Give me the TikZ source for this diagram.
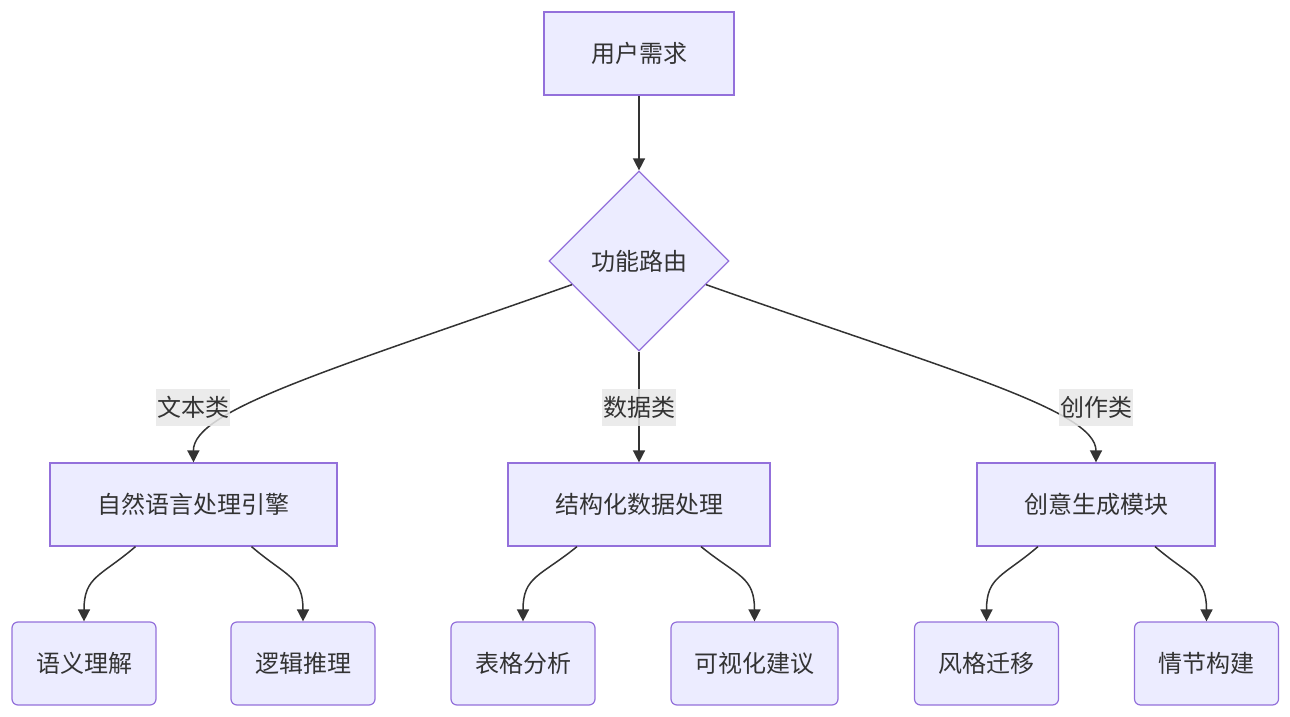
\documentclass[tikz,border=0pt]{standalone}
\usepackage{fontspec}
\newfontfamily\cjk{Noto Sans CJK SC}
\usetikzlibrary{shapes.geometric,arrows.meta,calc}

\definecolor{boxfill}{HTML}{ECECFF}
\definecolor{boxline}{HTML}{9370DB}
\definecolor{linegray}{HTML}{333333}
\definecolor{lblfill}{HTML}{E8E8E8}

\tikzset{
  box/.style={draw=boxline, fill=boxfill, line width=1.2pt, minimum height=83pt,
    text=linegray, font=\cjk\fontsize{24}{28}\selectfont},
  leaf/.style={box, rounded corners=6pt, minimum width=144pt},
  decide/.style={box, diamond, aspect=1, inner sep=0pt, minimum width=180pt, minimum height=180pt},
  lbl/.style={fill=lblfill, fill opacity=0.85, text opacity=1, text=linegray, inner xsep=1pt,
    inner ysep=0pt, minimum height=37pt, font=\cjk\fontsize{24}{28}\selectfont},
  arr/.style={draw=linegray, line width=1.5pt, -{Triangle[length=12pt,width=12pt]}},
}

\begin{document}
\begin{tikzpicture}[x=1pt, y=-1pt]

    \useasboundingbox (0,0) rectangle (1290,717);

    % top
    \node[box, minimum width=190pt] (req) at (639,53.5) {用户需求};
    \node[decide] (route) at (639,261) {功能路由};

    % middle row
    \node[box, minimum width=287pt] (nlp) at (193.5,504.5) {自然语言处理引擎};
    \node[box, minimum width=262pt] (data) at (639,504.5) {结构化数据处理};
    \node[box, minimum width=238pt] (create) at (1096,504.5) {创意生成模块};

    % bottom row
    \node[leaf] (sem) at (84,663.5) {语义理解};
    \node[leaf] (logic) at (303,663.5) {逻辑推理};
    \node[leaf] (table) at (523,663.5) {表格分析};
    \node[leaf, minimum width=167pt] (vis) at (754.5,663.5) {可视化建议};
    \node[leaf] (sty) at (986.5,663.5) {风格迁移};
    \node[leaf] (plot) at (1206.5,663.5) {情节构建};

    % edges
    \draw[arr] (req) -- (route);
    \draw[arr] (route) .. controls (330,370) and (193,410) .. (nlp.north);
    \draw[arr] (route) -- (data);
    \draw[arr] (route) .. controls (948,370) and (1096,410) .. (create.north);

    \node[lbl] (l1) at (193,407) {文本类};
    \node[lbl] (l2) at (639,407) {数据类};
    \node[lbl] (l3) at (1096,407) {创作类};

    \draw[arr] ($(nlp.south)+(-58,0)$) .. controls +(-35,30) and +(0,-45) .. (sem.north);
    \draw[arr] ($(nlp.south)+(58,0)$) .. controls +(35,30) and +(0,-45) .. (logic.north);
    \draw[arr] ($(data.south)+(-62,0)$) .. controls +(-37,30) and +(0,-45) .. (table.north);
    \draw[arr] ($(data.south)+(62,0)$) .. controls +(37,30) and +(0,-45) .. (vis.north);
    \draw[arr] ($(create.south)+(-58,0)$) .. controls +(-35,30) and +(0,-45) .. (sty.north);
    \draw[arr] ($(create.south)+(59,0)$) .. controls +(35,30) and +(0,-45) .. (plot.north);

  \end{tikzpicture}
\end{document}
